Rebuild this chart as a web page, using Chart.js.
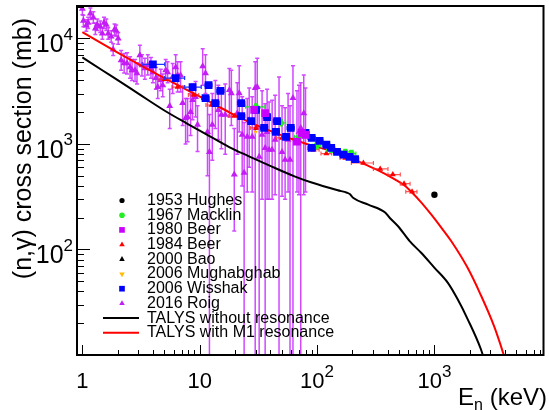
<!DOCTYPE html>
<html>
<head>
<meta charset="utf-8">
<script src="https://cdn.jsdelivr.net/npm/chart.js@4.4.1/dist/chart.umd.min.js"></script>
<style>
  html, body { margin: 0; padding: 0; background: #fff; }
</style>
</head>
<body>
<canvas id="chart" width="549" height="410"></canvas>
<script>
// E in keV, sigma in mb
const hughesE = [1000];
const hughesY = [330];

const macklinE = [30.1, 49.3, 70.1, 99, 132, 174, 197];
const macklinY = [2250, 1580, 1170, 961, 882, 840, 810];
const macklinXLo = [24.6, 45, 64, 91, 121, 160, 181];
const macklinXHi = [35.4, 54, 76, 108, 143, 189, 214];
const macklinYLo = [2100, 1480, 1100, 900, 830, 790, 750];
const macklinYHi = [2400, 1690, 1250, 1020, 935, 890, 870];

const beer80E = [29.1, 36.1, 67.4, 74.3, 79.7];
const beer80Y = [2100, 1960, 1050, 1270, 1220];

const beer84E = [5.03, 6.48, 8.86, 12.6, 19.7, 30.1, 50.3, 93.6, 120, 174, 248, 345, 442, 551, 645];
const beer84Y = [4110, 3460, 2910, 2340, 1840, 1420, 1140, 882, 810, 738, 660, 580, 513, 420, 353];
const beer84XLo = [4.5, 5.8, 8.0, 11.3, 17.7, 27, 45, 84, 108, 157, 196, 302, 402, 512, 570];
const beer84XHi = [5.6, 7.2, 9.8, 14, 21.8, 33, 56, 104, 133, 193, 302, 402, 512, 620, 710];

const baoE = [30];
const baoY = [1400];

const mughabghabE = [30];
const mughabghabY = [1300];

const wisshakE = [3.99, 6.24, 8.69, 11.2, 11.9, 13.6, 15.0, 22.6, 22.6, 27.4, 30.1, 35.4, 37.5, 44.6,
  45.6, 54.4, 59.7, 79.7, 90.0, 90.0, 105, 120, 132, 148, 168, 189, 211];
const wisshakY = [5690, 4210, 3460, 2720, 3610, 2440, 3180, 2440, 1840, 1650, 2100, 1420, 1800, 1300,
  1650, 1170, 1420, 1270, 1140, 918, 1070, 983, 918, 840, 792, 755, 720];
const wisshakXLo = [3.28, 5.03, 7.44, 10.4, 11.1, 12.6, 14.0, 21.0, 21.0, 25.5, 28.0, 32.9, 34.9, 41.5,
  42.4, 50.6, 55.5, 74.1, 83.7, 83.7, 97.7, 112, 123, 138, 156, 176, 196];
const wisshakXHi = [5.03, 7.44, 10.3, 12.0, 12.7, 14.6, 16.1, 24.2, 24.2, 29.3, 32.2, 37.9, 40.1, 47.7,
  48.8, 58.2, 63.9, 85.3, 96.3, 96.3, 112, 128, 141, 158, 180, 202, 226];

const roigE = [1.00, 1.02, 1.08, 1.12, 1.17, 1.24, 1.29, 1.34, 1.42, 1.48, 1.53, 1.60, 1.66, 1.76, 1.88, 1.94, 2.02, 1.83,
  2.14, 2.27, 2.40, 2.55, 2.65, 2.81, 2.92, 3.09, 3.22, 3.41, 3.61, 3.84, 3.99, 4.23, 4.39, 4.66, 4.84, 5.13, 5.33,
  5.55, 5.88, 6.24, 6.48, 6.87, 7.15, 7.58, 7.88, 8.36, 8.69, 9.22, 9.58,
  10.6, 11.2, 11.65, 12.1, 12.8, 13.6, 14.4, 15.3, 16.5, 17.9, 18.6, 19.7, 20.9, 21.7, 23.0, 23.9, 25.4, 26.4, 28.0, 29.7,
  30.9, 32.1, 34.0, 36.1, 37.5, 39.0, 41.4, 43.9, 47.4, 50.3, 53.4, 56.6, 58.8, 62.3, 67.4, 70.1, 72.6, 77.0, 79.7];
const roigY = [19100, 14700, 13250, 14100, 17200, 15800, 12400, 13500, 12960, 11130, 14100, 13500, 11130, 10430, 12150, 11900, 9990, 7870,
  6210, 5820, 5820, 5340, 5000, 5000, 4690, 6920, 5570, 5230, 5570, 5230, 4790, 4210, 3460, 4030, 3610, 5000, 4790,
  2290, 4300, 5340, 4490, 4490, 2440, 1760, 1800, 2010, 2610, 2780, 1520,
  5460, 4690, 1300, 840, 1520, 2440, 2100, 1890, 1890, 3240, 3030, 513, 1960, 3030, 1220, 533, 1170, 1690, 1170, 3390,
  3460, 755, 1220, 918, 1300, 882, 882, 1095, 1610, 840, 710, 1095, 710, 2720, 1095, 1300, 1420, 1960, 1270];
const roigLo = [16800, 12900, 11700, 12400, 15100, 13900, 10900, 11900, 11400, 9800, 12400, 11900, 9800, 9200, 10700, 10500, 8800, 6900,
  5000, 4700, 4600, 4200, 4000, 3900, 3700, 5600, 4400, 4100, 4500, 4200, 3800, 3300, 2700, 3200, 2800, 4000, 3800,
  1400, 3000, 3900, 3100, 3100, 1500, 1000, 1050, 1200, 1700, 1800, 850,
  3600, 3000, 500, 1, 700, 1400, 1100, 900, 800, 1800, 1500, 150, 800, 1300, 400, 1, 350, 600, 350, 1,
  1400, 1, 300, 1, 300, 300, 300, 330, 1, 320, 300, 350, 1, 1, 350, 330, 1, 330, 350];
const roigHi = [21600, 16600, 15000, 15900, 19400, 17900, 14000, 15300, 14600, 12600, 15900, 15300, 12600, 11800, 13700, 13400, 11300, 8900,
  7700, 7200, 7300, 6700, 6300, 6300, 5900, 8600, 7000, 6500, 7000, 6600, 6000, 5300, 4400, 5100, 4600, 6300, 6000,
  3300, 5800, 7000, 6000, 6000, 3500, 2700, 2700, 3000, 3700, 3900, 2300,
  8000, 7000, 2600, 1900, 3000, 4000, 3600, 3400, 3700, 5200, 5000, 1400, 3800, 5500, 2800, 1600, 2700, 3400, 2800, 6000,
  6500, 2200, 3200, 2400, 3300, 2500, 2600, 2900, 4300, 2300, 2200, 3000, 2300, 5500, 3200, 3600, 3800, 4500, 3400];

const talysE = [1, 1.5, 2, 3, 5, 8, 12, 18, 26, 39, 65, 90, 150, 180, 190, 204, 273, 378, 417, 490,
  615, 771, 1002, 1298, 1578, 1918, 2484, 2750];
const talysY = [6620, 4940, 4030, 3000, 2076, 1536, 1195, 930, 768, 627, 491, 431, 364, 345, 335, 307, 266, 225, 199, 166,
  120, 93, 67, 48.5, 33.7, 21.9, 11.4, 8];

const m1E = [1, 1.5, 2, 3, 5, 8, 12, 18, 26, 39, 65, 90, 125, 173, 256, 332, 460, 550, 635,
  771, 938, 1140, 1384, 1918, 2484, 3222, 3666, 3950, 4300];
const m1Y = [11460, 8840, 7354, 5718, 4208, 3204, 2531, 1985, 1628, 1346, 1086, 969, 875, 778, 640, 562, 462, 408, 353,
  280, 215, 162, 121, 67, 37, 18.8, 12.4, 9.5, 7];

const xTicks = [1, 10, 100, 1000];
const xTickText = ['1', '10', '10^2', '10^3'];
const yTicks = [100, 1000, 10000];
const yTickText = ['10^2', '10^3', '10^4'];

const FONT = '"Liberation Sans", Arial, Helvetica, sans-serif';

function pts(xs, ys) {
  return xs.map((v, i) => ({ x: v, y: ys[i] }));
}

// error bars drawn just before each dataset's markers
const errorBars = {
  id: 'errorBars',
  beforeDatasetDraw(chart, args) {
    const ds = chart.data.datasets[args.index];
    const e = ds.err;
    if (!e) return;
    const { ctx, chartArea: a, scales: { x, y } } = chart;
    ctx.save();
    ctx.beginPath();
    ctx.rect(a.left, a.top, a.right - a.left, a.bottom - a.top);
    ctx.clip();
    ctx.strokeStyle = e.color;
    ctx.lineWidth = e.width;
    ds.data.forEach((p, i) => {
      const px = x.getPixelForValue(p.x);
      const py = y.getPixelForValue(p.y);
      ctx.beginPath();
      if (e.yLo) {
        const y1 = y.getPixelForValue(e.yLo[i]);
        const y2 = y.getPixelForValue(e.yHi[i]);
        ctx.moveTo(px, y1); ctx.lineTo(px, y2);
        ctx.moveTo(px - 2, y1); ctx.lineTo(px + 2, y1);
        ctx.moveTo(px - 2, y2); ctx.lineTo(px + 2, y2);
      }
      if (e.xLo) {
        const x1 = x.getPixelForValue(e.xLo[i]);
        const x2 = x.getPixelForValue(e.xHi[i]);
        ctx.moveTo(x1, py); ctx.lineTo(x2, py);
        ctx.moveTo(x1, py - 2); ctx.lineTo(x1, py + 2);
        ctx.moveTo(x2, py - 2); ctx.lineTo(x2, py + 2);
      }
      ctx.stroke();
    });
    ctx.restore();
  }
};

function drawPow(ctx, text, x, y, align, big, small) {
  const [base, exp] = text.split('^');
  ctx.font = big + 'px ' + FONT;
  const wb = ctx.measureText(base).width;
  ctx.font = small + 'px ' + FONT;
  const we = exp ? ctx.measureText(exp).width : 0;
  const w = wb + we;
  let x0 = align === 'center' ? x - w / 2 : x - w;
  ctx.textAlign = 'left';
  ctx.textBaseline = 'alphabetic';
  ctx.font = big + 'px ' + FONT;
  ctx.fillText(base, x0, y);
  if (exp) {
    ctx.font = small + 'px ' + FONT;
    ctx.fillText(exp, x0 + wb, y - big * 0.5);
  }
}

const frame = {
  id: 'frame',
  afterDraw(chart) {
    const { ctx, chartArea: a, scales: { x, y } } = chart;
    ctx.save();
    ctx.strokeStyle = '#000';
    ctx.fillStyle = '#000';
    ctx.lineWidth = 1;
    ctx.beginPath();
    for (let d = 0; d <= 3; d++) {
      for (let m = 1; m <= 9; m++) {
        const px = Math.round(x.getPixelForValue(m * Math.pow(10, d))) + 0.5;
        if (px < a.left || px > a.right) continue;
        const len = m === 1 ? 10 : 5;
        ctx.moveTo(px, a.bottom); ctx.lineTo(px, a.bottom - len);
      }
    }
    for (let d = 1; d <= 4; d++) {
      for (let m = 1; m <= 9; m++) {
        const py = Math.round(y.getPixelForValue(m * Math.pow(10, d))) + 0.5;
        if (py < a.top || py > a.bottom) continue;
        const len = m === 1 ? 13 : 7;
        ctx.moveTo(a.left, py); ctx.lineTo(a.left + len, py);
      }
    }
    ctx.stroke();
    ctx.lineWidth = 2;
    ctx.strokeRect(a.left, a.top, a.right - a.left, a.bottom - a.top);

    xTicks.forEach((v, i) => drawPow(ctx, xTickText[i], x.getPixelForValue(v), 388, 'center', 22, 17));
    yTicks.forEach((v, i) => drawPow(ctx, yTickText[i], 73, y.getPixelForValue(v) + 14, 'right', 25, 17));

    // axis titles
    ctx.font = '25px ' + FONT;
    ctx.save();
    ctx.translate(31, 18);
    ctx.rotate(-Math.PI / 2);
    ctx.textAlign = 'right';
    ctx.textBaseline = 'alphabetic';
    ctx.fillText('(n,\u03b3) cross section (mb)', 0, 0);
    ctx.restore();

    ctx.textAlign = 'left';
    ctx.font = '24px ' + FONT;
    const wE = ctx.measureText('E').width;
    const wK = ctx.measureText(' (keV)').width;
    ctx.font = '16px ' + FONT;
    const wN = ctx.measureText('n').width;
    let tx = 547 - wE - wN - wK;
    ctx.font = '24px ' + FONT;
    ctx.fillText('E', tx, 405);
    ctx.font = '16px ' + FONT;
    ctx.fillText('n', tx + wE, 410);
    ctx.font = '24px ' + FONT;
    ctx.fillText(' (keV)', tx + wE + wN, 405);
    ctx.restore();
  }
};

const legendBox = {
  id: 'legendBox',
  afterDraw(chart) {
    const ctx = chart.ctx;
    ctx.save();
    chart.data.datasets.forEach((ds, i) => {
      const yy = 200.5 + i * 14.7;
      if (ds.showLine) {
        ctx.strokeStyle = ds.borderColor;
        ctx.lineWidth = 2;
        ctx.beginPath();
        ctx.moveTo(103, yy); ctx.lineTo(139, yy);
        ctx.stroke();
      } else {
        ctx.fillStyle = ds.backgroundColor;
        Chart.helpers.drawPoint(ctx, {
          pointStyle: ds.pointStyle, radius: ds.legendRadius,
          rotation: ds.pointRotation || 0, borderWidth: 0
        }, 122, yy);
      }
      ctx.fillStyle = '#000';
      ctx.font = '16px ' + FONT;
      ctx.textAlign = 'left';
      ctx.textBaseline = 'middle';
      ctx.fillText(ds.label, 147, yy);
    });
    ctx.restore();
  }
};

function marks(label, xs, ys, style, color, r, lr, order, extra) {
  return Object.assign({
    label, data: pts(xs, ys), showLine: false, pointStyle: style,
    pointRadius: r, pointBorderWidth: 0, backgroundColor: color, borderColor: color,
    legendRadius: lr, order
  }, extra || {});
}

new Chart(document.getElementById('chart'), {
  type: 'scatter',
  data: {
    datasets: [
      marks('1953 Hughes', hughesE, hughesY, 'circle', '#000000', 3.2, 2.6, 1),
      marks('1967 Macklin', macklinE, macklinY, 'circle', '#22ee22', 3, 2.8, 3, {
        err: { color: '#22ee22', width: 1.2, xLo: macklinXLo, xHi: macklinXHi, yLo: macklinYLo, yHi: macklinYHi }
      }),
      marks('1980 Beer', beer80E, beer80Y, 'rect', '#cc00ff', 5.5, 4, 2),
      marks('1984 Beer', beer84E, beer84Y, 'triangle', '#ff0000', 3.5, 3.2, 4, {
        err: { color: 'rgba(255,40,40,0.8)', width: 1.2, xLo: beer84XLo, xHi: beer84XHi }
      }),
      marks('2000 Bao', baoE, baoY, 'triangle', '#000000', 2.5, 3.2, 6),
      marks('2006 Mughabghab', mughabghabE, mughabghabY, 'triangle', '#ffbb00', 2.5, 3.2, 6, { pointRotation: 180 }),
      marks('2006 Wisshak', wisshakE, wisshakY, 'rect', '#0000ff', 5.5, 4, 2, {
        err: { color: '#2233ff', width: 1.2, xLo: wisshakXLo, xHi: wisshakXHi }
      }),
      marks('2016 Roig', roigE, roigY, 'triangle', '#c41cf4', 4, 3.2, 10, {
        err: { color: 'rgba(200,40,255,0.85)', width: 1.5, yLo: roigLo, yHi: roigHi }
      }),
      {
        label: 'TALYS without resonance', data: pts(talysE, talysY), showLine: true,
        borderColor: '#000000', borderWidth: 2, pointRadius: 0, cubicInterpolationMode: 'monotone', order: 5
      },
      {
        label: 'TALYS with M1 resonance', data: pts(m1E, m1Y), showLine: true,
        borderColor: '#ff0000', borderWidth: 2, pointRadius: 0, cubicInterpolationMode: 'monotone', order: 5
      }
    ]
  },
  options: {
    responsive: false,
    animation: false,
    events: [],
    layout: { padding: { left: 0, right: 2, top: 6, bottom: 0 } },
    plugins: { legend: { display: false }, tooltip: { enabled: false } },
    scales: {
      x: {
        type: 'logarithmic', min: 0.9, max: 8500,
        ticks: { display: false }, grid: { display: false }, border: { display: false },
        afterFit(s) { s.height = 55; }
      },
      y: {
        type: 'logarithmic', min: 10, max: 20300,
        ticks: { display: false }, grid: { display: false }, border: { display: false },
        afterFit(s) { s.width = 77; }
      }
    }
  },
  plugins: [errorBars, frame, legendBox]
});
</script>
</body>
</html>
